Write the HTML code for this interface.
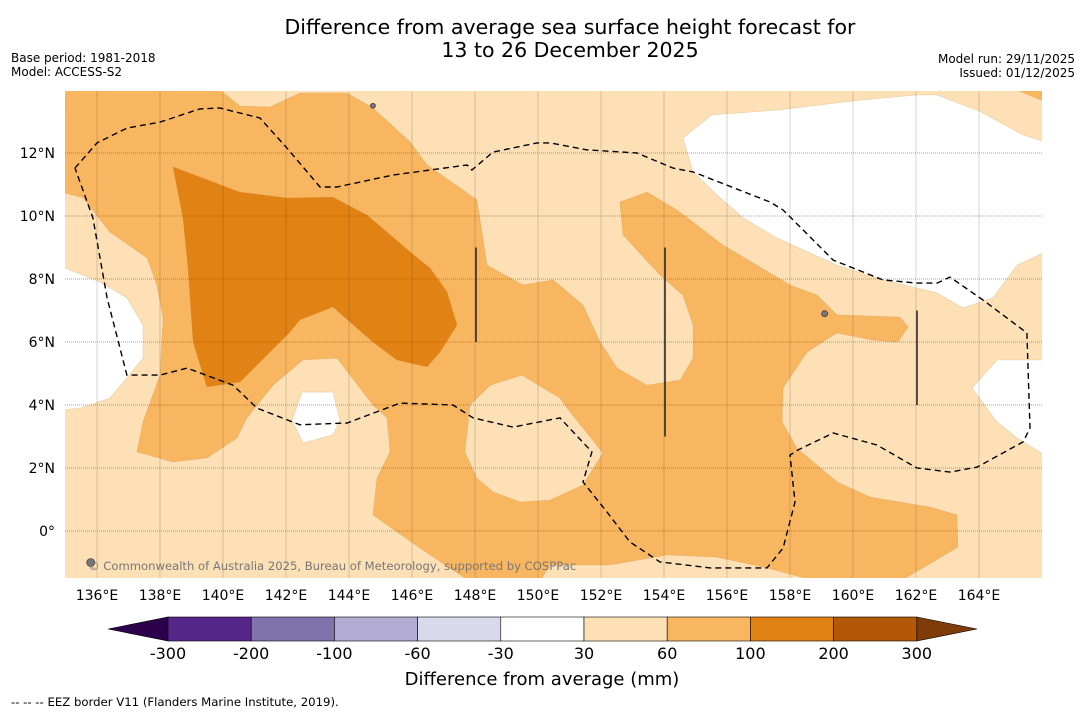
<!DOCTYPE html>
<html><head><meta charset="utf-8">
<style>
html,body{margin:0;padding:0;background:#fff;}
svg{display:block;font-family:"DejaVu Sans","Liberation Sans",sans-serif;}
</style></head>
<body>
<svg id="chart" width="1085" height="713" viewBox="0 0 1085 713" xmlns="http://www.w3.org/2000/svg">
<rect width="1085" height="713" fill="#fff"/>
<text x="570" y="34" font-size="20.5" text-anchor="middle" fill="#000">Difference from average sea surface height forecast for</text>
<text x="570" y="57" font-size="20.5" text-anchor="middle" fill="#000">13 to 26 December 2025</text>
<text x="11" y="62" font-size="12">Base period: 1981-2018</text>
<text x="11" y="76" font-size="12">Model: ACCESS-S2</text>
<text x="1075" y="63" font-size="12" text-anchor="end">Model run: 29/11/2025</text>
<text x="1075" y="77" font-size="12" text-anchor="end">Issued: 01/12/2025</text>
<defs><clipPath id="mapclip"><rect x="65" y="91" width="977" height="487"/></clipPath></defs>
<g id="map" clip-path="url(#mapclip)"></g>
<g id="axes"></g>
<g id="cbar"></g>
<text x="542" y="685" font-size="18" text-anchor="middle">Difference from average (mm)</text>
<text x="11" y="706" font-size="11.7">--  --  -- EEZ border V11 (Flanders Marine Institute, 2019).</text>
</svg>
<script>
const lonTicks=[136,138,140,142,144,146,148,150,152,154,156,158,160,162,164];
const latTicks=[0,2,4,6,8,10,12];
const cbBounds=[-300,-200,-100,-60,-30,30,60,100,200,300];
const cbColors=["#542788","#8073ac","#b2abd2","#d8daeb","#ffffff","#fee0b6","#f9b661","#e08214","#b35806"];
const cbLow="#2d004b", cbHigh="#7f3b08";
const contourMid=[[135,14],[139.9,14],[140.54,13.49],[141.49,13.46],[142.44,13.9],[143.94,13.9],[144.76,13.43],[145.94,12.35],[146.48,11.62],[148.06,10.51],[148.38,8.44],[149.52,7.81],[150.48,7.97],[151.43,7.17],[151.97,6.0],[152.51,5.17],[153.46,4.63],[154.51,4.79],[154.92,5.49],[154.92,6.54],[154.6,7.49],[153.87,8.13],[152.7,9.4],[152.6,10.44],[153.46,10.76],[154.41,10.19],[155.87,9.08],[158,7.81],[158.86,7.49],[159.49,6.86],[161.49,6.79],[161.75,6.48],[161.43,6.0],[160.63,6.06],[159.49,6.29],[158.54,5.68],[157.78,4.54],[157.75,3.46],[158.22,2.63],[159.49,1.56],[160.54,1.08],[162.44,0.76],[163.3,0.51],[163.33,-0.51],[161.49,-1.6],[158.86,-1.6],[157.27,-1.17],[155.68,-0.83],[154.1,-0.76],[152.29,-1.08],[150.38,-1.08],[150.06,-1.6],[147.84,-1.6],[146.25,-0.54],[144.76,0.51],[144.89,1.68],[145.3,2.51],[145.21,3.59],[144.76,4.0],[143.62,5.49],[142.54,5.43],[141.59,4.63],[140.76,3.59],[140.44,2.95],[139.49,2.32],[138.41,2.19],[137.27,2.51],[137.46,3.46],[138,4.95],[138.1,6.76],[137.9,7.81],[137.59,8.67],[136.41,9.49],[135.56,10.57],[134.9,10.76]];
const contourMidCorner=[[164.98,14.1],[166.1,14.1],[166.1,13.62]];
const contourLightPocket=[[148.48,4.63],[149.49,4.95],[150.7,4.22],[150.92,3.9],[152.06,2.48],[151.43,1.46],[150.38,0.98],[149.43,0.92],[148.57,1.24],[148.06,1.68],[147.68,2.51],[147.84,4.0]];
const contourDark=[[138.41,11.56],[140.54,10.76],[142.03,10.57],[143.49,10.6],[144.57,10.03],[145.94,8.86],[146.57,8.35],[147.11,7.59],[147.43,6.54],[146.89,5.68],[146.48,5.21],[145.52,5.43],[144.76,6.0],[143.49,7.11],[142.44,6.7],[142.13,6.32],[140.54,4.73],[139.49,4.57],[139.05,6.0],[138.89,8.35],[138.73,9.94]];
const contourWhiteLeft=[[134.9,8.38],[136.1,7.9],[136.95,7.4],[137.46,6.54],[137.46,5.49],[136.95,4.86],[136.41,4.22],[135.46,3.9],[134.9,3.84]];
const contourWhiteMid=[[142.51,4.41],[143.49,4.41],[143.71,3.52],[143.49,3.05],[142.54,2.79],[142.19,3.52]];
const contourWhiteTop=[[154.6,12.48],[155.52,13.21],[157.68,13.37],[160.22,13.68],[162.03,13.84],[162.67,13.84],[164.03,13.32],[165.4,12.57],[166.1,12.35],[166.1,8.86],[165.21,8.44],[164.44,7.4],[163.49,7.08],[162.67,7.56],[160.95,7.97],[159.49,8.44],[157.59,9.3],[156.51,9.94],[155.68,10.67],[154.92,11.4]];
const contourWhiteRight=[[164.57,5.43],[166.1,5.43],[166.1,2.41],[165.21,2.95],[164.57,3.46],[163.78,4.54]];
const eezLon=[135.3,136,136.95,138,139.27,139.9,141.17,142.03,143.08,143.62,145.4,147.75,147.9,148.57,149.97,150.38,151.56,153.14,154.29,154.92,157.37,157.78,159.37,160.95,162.03,162.67,163.08,164.13,165.52,165.62,165.4,163.94,163.08,162.03,160.76,159.37,158.25,158,158.16,157.78,157.27,155.46,153.87,152.92,152.19,151.43,151.71,150.7,149.21,147.94,147.3,145.62,143.94,142.44,141.08,140.32,138.86,138,136.95,136.32,135.87,135.3];
const eezLat=[11.52,12.32,12.79,12.98,13.4,13.43,13.11,12.16,10.92,10.92,11.3,11.62,11.46,12.03,12.32,12.32,12.1,12.0,11.52,11.4,10.44,10.19,8.6,7.97,7.87,7.87,8.06,7.33,6.29,3.27,2.83,2.03,1.87,2.0,2.73,3.11,2.57,2.41,0.92,-0.54,-1.17,-1.17,-0.98,-0.35,0.6,1.56,2.51,3.59,3.3,3.59,4.0,4.06,3.43,3.37,3.9,4.63,5.17,4.95,4.95,7.4,9.94,11.52];
const ridgeLon=[148,154,162];
const ridgeTop=[9,9,7];
const ridgeBot=[6,3,4];
const islands=[[144.76,13.5,2.5],[159.1,6.9,3],[135.8,-1.0,4]];

const NS="http://www.w3.org/2000/svg";
const X=lon=>97+(lon-136)*31.5;
const Y=lat=>531-lat*31.5;
const cbX=i=>168+i*83.2;
function mk(tag,attrs,parent){const e=document.createElementNS(NS,tag);for(const k in attrs)e.setAttribute(k,attrs[k]);parent.appendChild(e);return e;}
const map=document.getElementById('map'),axes=document.getElementById('axes'),cbar=document.getElementById('cbar');
const pts=a=>a.map(p=>X(p[0]).toFixed(1)+","+Y(p[1]).toFixed(1)).join(" ");

let bg=mk('rect',{x:65,y:91,width:977,height:487,fill:cbColors[5]},map);


const polys=[[contourMid,cbColors[6],'contour-60-100'],[contourMidCorner,cbColors[6],'contour-60-100-corner'],[contourLightPocket,cbColors[5],'contour-30-60-pocket'],[contourDark,cbColors[7],'contour-100-200'],[contourWhiteLeft,cbColors[4],'contour-neutral-west'],[contourWhiteMid,cbColors[4],'contour-neutral-central'],[contourWhiteTop,cbColors[4],'contour-neutral-northeast'],[contourWhiteRight,cbColors[4],'contour-neutral-east']];
polys.forEach(p=>{
  const e=mk('polygon',{points:pts(p[0]),fill:p[1],stroke:'rgba(200,140,60,0.35)','stroke-width':0.6},map);
  
  
});
lonTicks.forEach(l=>{
  const e=mk('line',{x1:X(l),x2:X(l),y1:91,y2:578,stroke:'rgba(60,40,20,0.2)','stroke-width':1},map);
  
  
});
latTicks.forEach(l=>{
  const e=mk('line',{x1:65,x2:1042,y1:Y(l),y2:Y(l),stroke:'rgba(90,90,90,0.55)','stroke-width':1,'stroke-dasharray':'1,1'},map);
  
  
});
const eez=mk('polyline',{points:pts(eezLon.map((v,i)=>[v,eezLat[i]])),fill:'none',stroke:'#000','stroke-width':1.4,'stroke-dasharray':'6,4'},map);


ridgeLon.forEach((l,i)=>{
  const e=mk('line',{x1:X(l)+1,x2:X(l)+1,y1:Y(ridgeTop[i]),y2:Y(ridgeBot[i]),stroke:'#222','stroke-width':1.5},map);
  
  
});
islands.forEach(p=>{
  const e=mk('circle',{cx:X(p[0]),cy:Y(p[1]),r:p[2],fill:'#777',stroke:'#222','stroke-width':0.6},map);
  
  
});
const cr=mk('text',{x:88,y:570,'font-size':11.6,fill:'#777'},map);
cr.textContent='© Commonwealth of Australia 2025, Bureau of Meteorology, supported by COSPPac';



lonTicks.forEach(l=>{
  const t=mk('text',{x:X(l),y:600,'font-size':14,'text-anchor':'middle'},axes);
  t.textContent=l+'°E';
  
  
});
latTicks.forEach(l=>{
  const t=mk('text',{x:55,y:Y(l)+5,'font-size':14,'text-anchor':'end'},axes);
  t.textContent=l===0?'0°':l+'°N';
  
  
});

const lt=mk('polygon',{points:`108,629 ${cbX(0)},617 ${cbX(0)},641`,fill:cbLow,stroke:'#000','stroke-width':0.6},cbar);


const n=cbColors.length;
const rt=mk('polygon',{points:`${cbX(n)},617 977,629 ${cbX(n)},641`,fill:cbHigh,stroke:'#000','stroke-width':0.6},cbar);


cbColors.forEach((c,i)=>{
  const r=mk('rect',{x:cbX(i),y:617,width:83.2,height:24,fill:c,stroke:'#000','stroke-width':0.6},cbar);
  
  
});
cbBounds.forEach((b,i)=>{
  const t=mk('text',{x:cbX(i),y:659,'font-size':16,'text-anchor':'middle'},cbar);
  t.textContent=b;
  
  
});
</script>
</body></html>
